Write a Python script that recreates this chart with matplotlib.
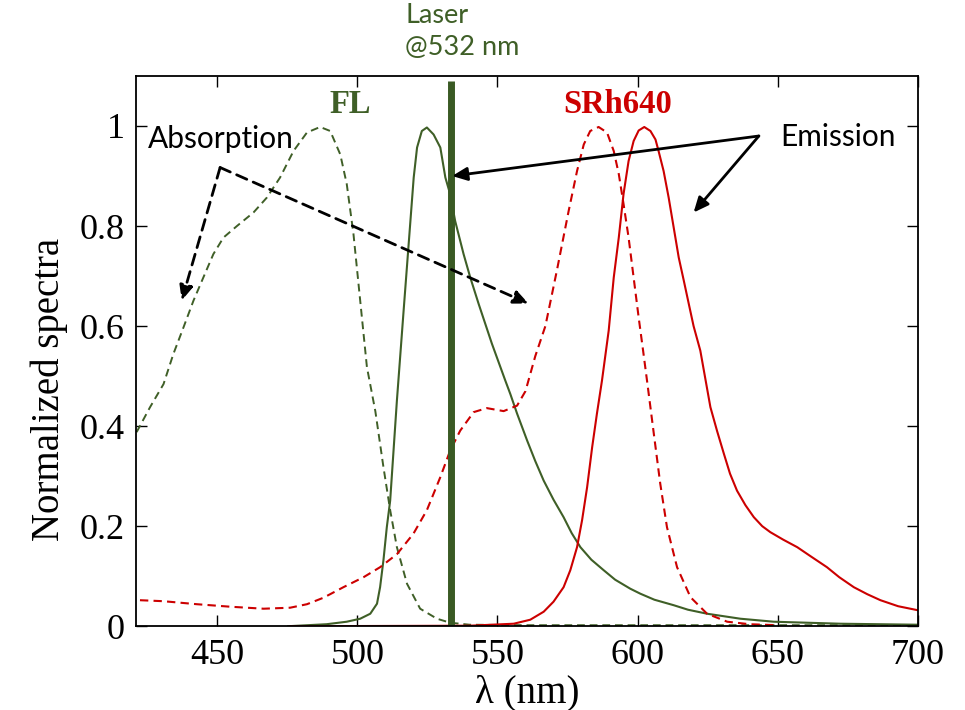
import matplotlib
matplotlib.use("Agg")
import matplotlib.pyplot as plt

# ---------------- data ----------------
fl_abs_x = [421.2, 426.0, 430.8, 434.3, 437.9, 441.5, 445.0, 448.6, 452.2, 457.0, 462.9, 467.7,
            472.4, 477.2, 482.0, 486.7, 490.3, 493.9, 496.2, 498.6, 501.0, 503.4, 506.4, 509.3,
            511.7, 514.1, 517.7, 522.4, 528.4, 533.1, 540.0, 560.0, 600.0, 650.0, 700.0]
fl_abs_y = [0.388, 0.438, 0.484, 0.544, 0.597, 0.651, 0.697, 0.744, 0.777, 0.800, 0.827, 0.857,
            0.897, 0.950, 0.987, 0.998, 0.990, 0.943, 0.884, 0.784, 0.651, 0.518, 0.430, 0.318,
            0.232, 0.158, 0.085, 0.035, 0.015, 0.007, 0.003, 0.002, 0.002, 0.002, 0.002]

fl_em_x = [475.3, 489.0, 496.2, 501.0, 504.6, 507.0, 508.1, 509.3, 510.5, 511.7, 512.9, 514.1,
           516.5, 518.3, 520.1, 521.3, 523.0, 524.8, 527.2, 529.6, 531.4, 533.1, 534.9, 537.9,
           540.3, 543.3, 548.0, 552.8, 554.6, 557.0, 560.6, 563.5, 566.5, 570.0, 573.6, 576.5,
           579.6, 583.5, 587.9, 592.0, 597.4, 601.0, 606.0, 612.9, 618.0, 624.8, 636.7, 648.6,
           672.4, 700.0]
fl_em_y = [0.000, 0.004, 0.009, 0.015, 0.025, 0.045, 0.078, 0.132, 0.198, 0.251, 0.351, 0.451,
           0.631, 0.764, 0.897, 0.957, 0.990, 0.997, 0.983, 0.957, 0.897, 0.864, 0.810, 0.744,
           0.697, 0.644, 0.565, 0.491, 0.464, 0.425, 0.371, 0.330, 0.291, 0.253, 0.218, 0.186,
           0.158, 0.133, 0.112, 0.093, 0.075, 0.065, 0.053, 0.042, 0.033, 0.025, 0.015, 0.009,
           0.005, 0.003]

srh_abs_x = [422.4, 430.8, 442.7, 454.6, 466.5, 476.0, 482.0, 487.9, 495.0, 502.2, 508.1, 514.1,
             520.0, 524.8, 529.6, 533.1, 536.7, 541.5, 546.2, 552.2, 557.0, 560.0, 563.5, 567.1,
             571.2, 575.4, 578.4, 580.8, 583.1, 586.1, 589.1, 591.5, 593.3, 595.0, 596.8, 598.6,
             600.4, 602.0, 603.4, 605.8, 608.1, 610.5, 614.1, 618.9, 624.8, 632.0, 640.0, 650.0]
srh_abs_y = [0.052, 0.050, 0.044, 0.039, 0.035, 0.037, 0.044, 0.057, 0.078, 0.098, 0.118, 0.144,
             0.185, 0.232, 0.298, 0.351, 0.391, 0.428, 0.436, 0.430, 0.441, 0.470, 0.540, 0.600,
             0.711, 0.830, 0.910, 0.963, 0.990, 0.998, 0.987, 0.950, 0.904, 0.844, 0.777, 0.697,
             0.617, 0.550, 0.490, 0.385, 0.285, 0.198, 0.118, 0.058, 0.025, 0.009, 0.004, 0.002]

srh_em_x = [476.0, 540.0, 555.8, 561.7, 566.5, 570.0, 573.6, 576.0, 578.4, 580.2, 582.0, 583.8,
            585.5, 587.3, 589.7, 591.5, 593.3, 595.0, 596.8, 598.6, 600.4, 602.4, 604.6, 606.4,
            607.5, 609.3, 611.1, 612.9, 614.7, 616.5, 618.3, 620.0, 622.4, 626.0, 628.4, 630.8,
            633.0, 635.5, 638.5, 641.5, 644.5, 647.4, 652.0, 657.0, 662.0, 667.6, 672.0, 677.2,
            682.0, 686.7, 693.0, 700.0]
srh_em_y = [0.000, 0.001, 0.005, 0.013, 0.029, 0.049, 0.078, 0.112, 0.158, 0.212, 0.278, 0.358,
            0.425, 0.491, 0.591, 0.697, 0.777, 0.864, 0.930, 0.970, 0.991, 0.998, 0.990, 0.973,
            0.950, 0.910, 0.857, 0.797, 0.737, 0.691, 0.644, 0.600, 0.551, 0.438, 0.390, 0.345,
            0.305, 0.271, 0.242, 0.218, 0.200, 0.188, 0.173, 0.158, 0.139, 0.118, 0.098, 0.078,
            0.064, 0.052, 0.040, 0.032]

laser_nm = 533.5
x_ticks = [450, 500, 550, 600, 650, 700]
y_ticks = [0, 0.2, 0.4, 0.6, 0.8, 1]
y_tick_labels = ["0", "0.2", "0.4", "0.6", "0.8", "1"]

GREEN = "#3f5f27"
RED = "#cc0000"

# ---------------- figure ----------------
fig = plt.figure(figsize=(9.65, 7.10), dpi=100)
ax = fig.add_axes([0.141, 0.118, 0.810, 0.775])

dash = (0, (4, 2.5))
ax.plot(fl_abs_x, fl_abs_y, color=GREEN, lw=1.4, ls=dash)
ax.plot(fl_em_x, fl_em_y, color=GREEN, lw=1.5)
ax.plot(srh_abs_x, srh_abs_y, color=RED, lw=1.5, ls=dash)
ax.plot(srh_em_x, srh_em_y, color=RED, lw=1.5)

# laser line
ax.plot([laser_nm, laser_nm], [0, 1.09], color="#3a5a24", lw=5.0, solid_capstyle="butt")

ax.set_xlim(421, 700)
ax.set_ylim(0, 1.1)
ax.set_xticks(x_ticks)
ax.set_yticks(y_ticks)
ax.set_yticklabels(y_tick_labels)

serif = "Liberation Serif"
for lab in ax.get_xticklabels() + ax.get_yticklabels():
    lab.set_fontfamily(serif)
    lab.set_fontsize(26)
ax.tick_params(direction="in", length=8, width=1.0, top=True, right=True,
               labeltop=False, labelright=False)
ax.tick_params(axis="x", pad=9)
ax.tick_params(axis="y", pad=8)
for sp in ax.spines.values():
    sp.set_linewidth(1.3)

ax.set_xlabel("λ (nm)", fontfamily=serif, fontsize=28, labelpad=2)
ax.set_ylabel("Normalized spectra", fontfamily=serif, fontsize=28)
ax.yaxis.set_label_coords(-0.087, 0.43)

# labels
ax.text(497.4, 1.042, "FL", color=GREEN, fontfamily=serif, fontweight="bold",
        fontsize=23.5, ha="center", va="center")
ax.text(592.8, 1.042, "SRh640", color=RED, fontfamily=serif, fontweight="bold",
        fontsize=23.5, ha="center", va="center")
ax.text(425.3, 0.974, "Absorption", fontfamily="Lato", fontsize=21.5, ha="left", va="center")
ax.text(651.0, 0.978, "Emission", fontfamily="Lato", fontsize=21.5, ha="left", va="center")
ax.text(517.1, 1.22, "Laser", color=GREEN, fontfamily="Lato", fontsize=19.5,
        ha="left", va="center", clip_on=False)
ax.text(517.1, 1.156, "@532 nm", color=GREEN, fontfamily="Lato", fontsize=19.5,
        ha="left", va="center", clip_on=False)

# arrows
def arrow(start, end, ls):
    ax.annotate("", xy=end, xytext=start,
                arrowprops=dict(arrowstyle="-|>,head_length=0.9,head_width=0.4",
                                color="black", lw=2.0, ls=ls,
                                shrinkA=0, shrinkB=0))

abs_vertex = (451.0, 0.917)
arrow(abs_vertex, (437.3, 0.651), (0, (4, 2.5)))
arrow(abs_vertex, (561.1, 0.645), (0, (4, 2.5)))
em_vertex = (643.3, 0.980)
arrow(em_vertex, (533.8, 0.900), "-")
arrow(em_vertex, (620.0, 0.827), "-")

fig.savefig("out.png", dpi=100)
